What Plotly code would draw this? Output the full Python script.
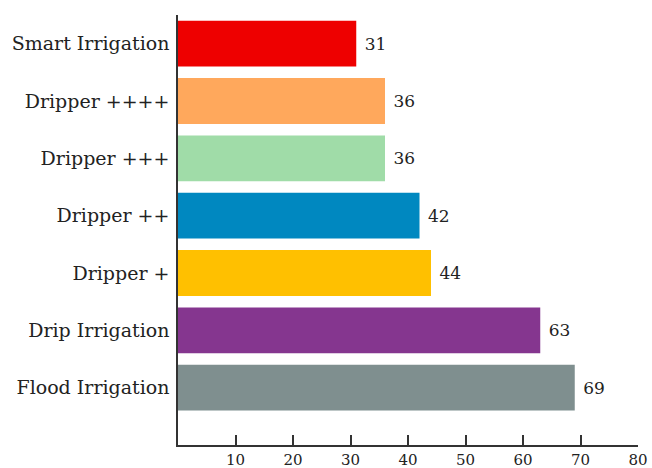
import plotly.graph_objects as go

categories = ["Flood Irrigation", "Drip Irrigation", "Dripper +", "Dripper ++",
              "Dripper +++", "Dripper ++++", "Smart Irrigation"]
values = [69, 63, 44, 42, 36, 36, 31]
colors = ["#7F8F8F", "#85368F", "#FFC000", "#0088C0", "#A0DCA8", "#FFA85C", "#EE0000"]
tick_vals = [10, 20, 30, 40, 50, 60, 70, 80]

FONT = "DejaVu Serif"

fig = go.Figure(go.Bar(
    x=values, y=categories, orientation="h",
    marker=dict(color=colors, line=dict(width=0)),
    text=["\u00a0" + str(v) for v in values], textposition="outside",
    constraintext="none",
    textfont=dict(family=FONT, size=17, color="#222"),
    cliponaxis=False, width=0.8,
))

fig.update_layout(
    width=652, height=468,
    margin=dict(l=178, r=14, t=15, b=23, autoexpand=False),
    paper_bgcolor="white", plot_bgcolor="white",
    showlegend=False,
    font=dict(family=FONT, color="#222"),
    xaxis=dict(range=[0, 80], tickvals=tick_vals, ticks="inside", ticklen=10,
               tickwidth=1.5, tickcolor="#333", showgrid=False, zeroline=False,
               showline=True, linecolor="#333", linewidth=1.5, automargin=False,
               tickfont=dict(family=FONT, size=15, color="#222")),
    yaxis=dict(range=[-1.0, 6.5], showgrid=False, zeroline=False, ticks="",
               showline=True, linecolor="#333", linewidth=1.5, automargin=False,
               tickfont=dict(family=FONT, size=19, color="#222"), ticklabelstandoff=3),
)

fig.write_html("out.html")
